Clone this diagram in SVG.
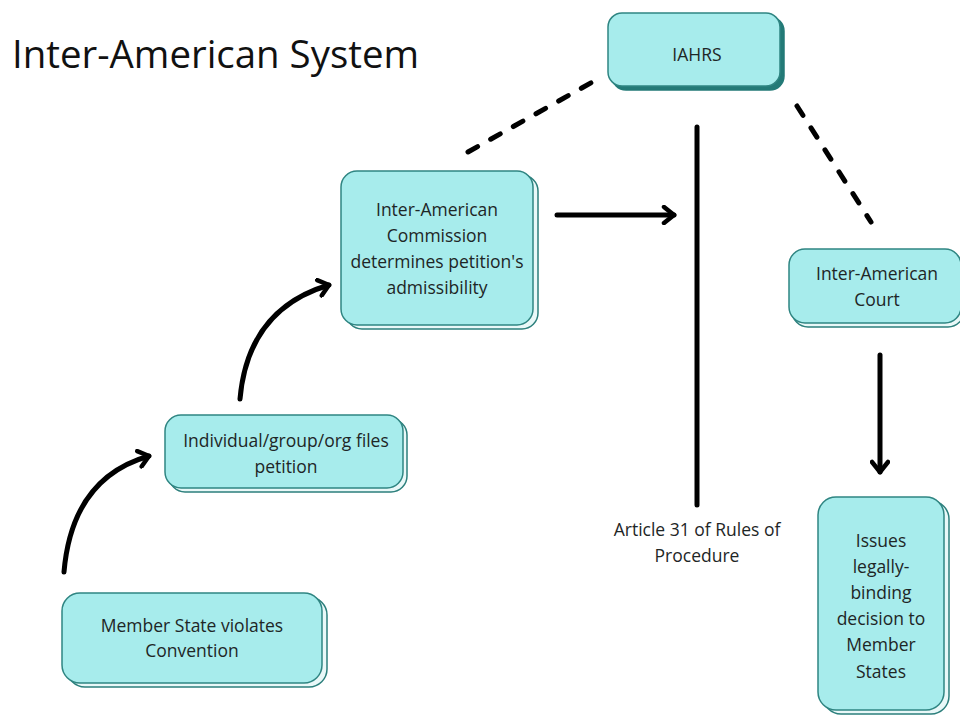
<svg xmlns="http://www.w3.org/2000/svg" width="960" height="716" viewBox="0 0 960 716">
<defs>
<style>
.back{fill:#e9f8f8;stroke:#2c7f7c;stroke-width:1.5}
.backd{fill:#237a77;stroke:#237a77;stroke-width:1.5}
.front{fill:#a7ecec;stroke:#2f8582;stroke-width:1.5}
.t{font-family:"Open Sans","Liberation Sans",sans-serif;font-size:17.5px;fill:#1e2626;text-anchor:middle}
.title{font-family:"Open Sans","Liberation Sans",sans-serif;font-size:38px;fill:#111}
.ln{fill:none;stroke:#000;stroke-width:5;stroke-linecap:round}
.dash{fill:none;stroke:#000;stroke-width:5;stroke-linecap:round;stroke-dasharray:11 15}
</style>
<marker id="ah" viewBox="0 0 20 20" refX="16" refY="10" markerWidth="20" markerHeight="20" markerUnits="userSpaceOnUse" orient="auto">
<path d="M6,2 L16,10 L6,18" fill="none" stroke="#000" stroke-width="4.5" stroke-linecap="round" stroke-linejoin="round"/>
</marker>
</defs>
<rect width="960" height="716" fill="#fff"/>
<text class="title" x="12" y="68" textLength="407" lengthAdjust="spacingAndGlyphs">Inter-American System</text>

<g id="connectors">
<line class="dash" x1="468" y1="152" x2="596" y2="80"/>
<line class="dash" x1="797" y1="106" x2="871" y2="222"/>
<line class="ln" x1="697" y1="127" x2="697" y2="505"/>
<line class="ln" x1="557" y1="215" x2="674" y2="215" marker-end="url(#ah)"/>
<line class="ln" x1="880" y1="355" x2="880" y2="472" marker-end="url(#ah)"/>
<path class="ln" d="M64,572 Q72,478 149,456" marker-end="url(#ah)"/>
<path class="ln" d="M240,399 Q248,309 329,285" marker-end="url(#ah)"/>
</g>

<g id="iahrs">
<rect class="backd" x="612" y="17" width="172" height="73" rx="14"/>
<rect class="front" x="608" y="13" width="172" height="73" rx="14"/>
<text class="t" x="697" y="61">IAHRS</text>
</g>

<g id="commission">
<rect class="back" x="346" y="175" width="192" height="154" rx="16"/>
<rect class="front" x="341" y="171" width="192" height="154" rx="16"/>
<text class="t" x="437" y="216">Inter-American</text>
<text class="t" x="437" y="242">Commission</text>
<text class="t" x="437" y="268">determines petition's</text>
<text class="t" x="437" y="294">admissibility</text>
</g>

<g id="individual">
<rect class="back" x="169" y="419" width="238" height="73" rx="16"/>
<rect class="front" x="165" y="415" width="238" height="73" rx="16"/>
<text class="t" x="286" y="447">Individual/group/org files</text>
<text class="t" x="286" y="473">petition</text>
</g>

<g id="member-state">
<rect class="back" x="67" y="597" width="260" height="90" rx="18"/>
<rect class="front" x="62" y="593" width="260" height="90" rx="18"/>
<text class="t" x="192" y="632">Member State violates</text>
<text class="t" x="192" y="657">Convention</text>
</g>

<g id="court">
<rect class="back" x="792" y="253" width="172" height="74" rx="16"/>
<rect class="front" x="789" y="249" width="172" height="74" rx="16"/>
<text class="t" x="877" y="280">Inter-American</text>
<text class="t" x="877" y="306">Court</text>
</g>

<g id="issues">
<rect class="back" x="823" y="501" width="126" height="213" rx="18"/>
<rect class="front" x="818" y="497" width="126" height="213" rx="18"/>
<text class="t" x="881" y="547">Issues</text>
<text class="t" x="881" y="573">legally-</text>
<text class="t" x="881" y="599">binding</text>
<text class="t" x="881" y="625">decision to</text>
<text class="t" x="881" y="651">Member</text>
<text class="t" x="881" y="678">States</text>
</g>

<g id="article">
<text class="t" x="697" y="536" font-size="17">Article 31 of Rules of</text>
<text class="t" x="697" y="562" font-size="17">Procedure</text>
</g>
</svg>
